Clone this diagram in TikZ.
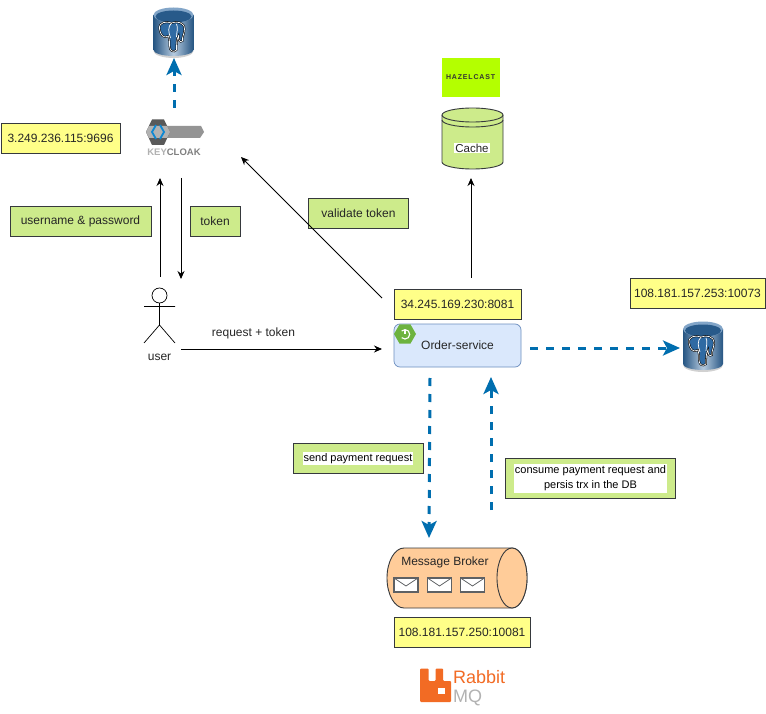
\documentclass[tikz,border=0pt]{standalone}
\usepackage{fontspec}
\setmainfont{Liberation Sans}
\usetikzlibrary{arrows.meta,shapes.geometric}
\definecolor{ylw}{HTML}{FFFF88}
\definecolor{grn}{HTML}{CDEB8B}
\definecolor{edge}{HTML}{36393D}
\definecolor{blu}{HTML}{006EAF}
\definecolor{svc}{HTML}{DAE8FC}
\definecolor{svcb}{HTML}{6C8EBF}
\definecolor{brk}{HTML}{FFCC99}
\definecolor{pgd}{HTML}{2F6AA3}
\definecolor{rab}{HTML}{F26B24}
\definecolor{spr}{HTML}{6DB33F}
\tikzset{
 x=1pt,y=-1pt,
 base/.style={font=\fontsize{12}{14}\selectfont,text=black!85},
 ipbox/.style={base,draw=edge,fill=ylw,line width=.9pt,minimum height=30pt,inner sep=0pt},
 notebox/.style={base,draw=edge,fill=grn,line width=.9pt,minimum height=30pt,inner sep=0pt,align=center},
 whitetxt/.style={fill=white,inner xsep=1pt,inner ysep=1.5pt,align=center,font=\fontsize{11}{15}\selectfont,text=black},
 txt/.style={base,inner sep=0pt},
 solidarrow/.style={draw=black,line width=.9pt,-{Stealth[length=8pt,width=7pt]}},
 dasharrow/.style={draw=blu,line width=3pt,dash pattern=on 8pt off 8pt,-{Stealth[length=17pt,width=15pt,inset=4pt]}},
}
\newcommand{\pgcyl}[1]{%
 \begin{scope}[shift={(#1)}]
  \fill[black!18] (-20,19) arc[start angle=180,end angle=360,x radius=20,y radius=-7] -- cycle;
  \shade[left color=pgd!80!black,right color=pgd!80!black,middle color=pgd!35!white] (-20,-17) -- (-20,18) arc[start angle=180,end angle=360,x radius=20,y radius=-6] -- (20,-17) -- cycle;
  \fill[pgd!60!white] (0,-17) ellipse[x radius=20,y radius=7.5];
  \fill[pgd!85!black] (0,-15.5) ellipse[x radius=18,y radius=6];
  \draw[black,line width=1.8pt,fill=pgd] (-14,-3) .. controls (-15,-10) and (-7,-11) .. (-2,-9) .. controls (3,-11) and (11,-10) .. (11,-3) .. controls (11,2) and (8,6) .. (9,9) .. controls (6,11) and (5,8) .. (5,4) .. controls (3,7) and (3,13) .. (3,18) .. controls (0,21) and (-4,19) .. (-4,14) .. controls (-4,9) and (-4,7) .. (-5,4) .. controls (-10,7) and (-13,3) .. (-14,-3) -- cycle;
  \draw[white,line width=.7pt] (-14,-3) .. controls (-15,-10) and (-7,-11) .. (-2,-9) .. controls (3,-11) and (11,-10) .. (11,-3) .. controls (11,2) and (8,6) .. (9,9) .. controls (6,11) and (5,8) .. (5,4) .. controls (3,7) and (3,13) .. (3,18) .. controls (0,21) and (-4,19) .. (-4,14) .. controls (-4,9) and (-4,7) .. (-5,4) .. controls (-10,7) and (-13,3) .. (-14,-3) -- cycle;
  \draw[white,line width=.7pt] (-2,-9) .. controls (-6,-5) and (-5,0) .. (-3,6);
  \draw[white,line width=.7pt] (3,-8) .. controls (5,-4) and (3,0) .. (3,5);
 \end{scope}}
\newcommand{\envlp}[1]{%
 \begin{scope}[shift={(#1)}]
  \draw[draw=edge!80,fill=white,line width=1.2pt] (0,0) rectangle (24,14);
  \draw[draw=edge!80,line width=.8pt] (0,0) -- (12,8) -- (24,0);
 \end{scope}}
\begin{document}
\begin{tikzpicture}
\useasboundingbox (0,0) rectangle (766,714);
\fill[white] (0,0) rectangle (766,714);

% databases
\pgcyl{173.5,32}
\pgcyl{703,346}
\coordinate (pgtop) at (174,58);
\coordinate (pgright) at (680,348);

% Keycloak logo
\node[inner sep=0pt,minimum width=58pt,minimum height=46pt] (kc) at (175,139) {};
\fill[black!42] (160,126) -- (201,126) -- (204,132) -- (200,138) -- (165,138) -- cycle;
\fill[black!65] (146,132) -- (152,119.5) -- (164,119.5) -- (170,132) -- (164,145) -- (152,145) -- cycle;
\fill[black!30] (146,132) -- (149,126) -- (167,126) -- (170,132) -- (167,138) -- (149,138) -- cycle;
\draw[cyan!70!blue,line width=1.8pt] (156,125) -- (152,132) -- (156,139) (160,125) -- (164,132) -- (160,139);
\node[inner sep=0pt,font=\fontsize{9.5}{10}\selectfont\bfseries,text=black!30] (kctext) at (174,152.5) {KEY\textcolor{black!50}{CLOAK}};

% actor
\node[draw=black,circle,minimum size=15pt,inner sep=0pt,line width=.7pt] (head) at (159.5,295.5) {};
\coordinate (hip) at (159.5,325);
\draw[black,line width=.7pt] (head.south) -- (hip);
\coordinate (armL) at (144,306.5); \coordinate (armR) at (175,306.5);
\coordinate (legL) at (144,343); \coordinate (legR) at (175,343);
\draw[black,line width=.7pt] (armL) -- (armR) (legL) -- (hip) -- (legR);
\node[txt] (user) at (159.5,357) {user};

% cache
\node[inner sep=0pt,minimum width=61pt,minimum height=61pt] (cache) at (472.5,138.5) {};
\draw[draw=edge,fill=grn,line width=.9pt] (442,115) -- (442,162) arc[start angle=180,end angle=360,x radius=30.5,y radius=-7] -- (503,115) arc[start angle=0,end angle=180,x radius=30.5,y radius=-7] -- cycle;
\draw[draw=edge,line width=.9pt] (442,115) arc[start angle=180,end angle=360,x radius=30.5,y radius=-7];
\draw[draw=edge,line width=.9pt] (442,120) arc[start angle=180,end angle=360,x radius=30.5,y radius=-7];
\node[txt,fill=white,inner xsep=1pt,inner ysep=1pt,font=\fontsize{11.5}{13}\selectfont] (cachetxt) at (472,148) {Cache};
\node[fill={rgb,255:red,180;green,255;blue,0},minimum width=58pt,minimum height=39pt,inner sep=0pt,font=\fontsize{7}{8}\selectfont\addfontfeature{LetterSpace=12},text=black!80] (hz) at (471,77.5) {\textbf{HAZELCAST}};

% yellow boxes
\node[ipbox,minimum width=119pt] (ip1) at (60.5,138) {3.249.236.115:9696};
\node[ipbox,minimum width=127pt] (ip2) at (457.5,304) {34.245.169.230:8081};
\node[ipbox,minimum width=135pt] (ip3) at (697.5,293) {108.181.157.253:10073};
\node[ipbox,minimum width=136pt] (ip4) at (462,632) {108.181.157.250:10081};

% green notes
\node[notebox,minimum width=141pt] (n1) at (80.5,221.5) {\rule{0pt}{9pt}username \& password};
\node[notebox,minimum width=50pt] (n2) at (215,221.5) {\rule{0pt}{9pt}token};
\node[notebox,minimum width=100pt] (n3) at (358.5,213) {validate token};
\node[notebox,minimum width=130pt] (n4) at (358,458) {};
\node[whitetxt] (n4t) at (358,458.5) {send payment request};
\node[notebox,minimum width=170pt,minimum height=40pt] (n5) at (590.5,478.5) {};
\node[whitetxt] (n5t) at (590.5,478.5) {consume payment request and\\persis trx in the DB};

% order service
\node[base,draw=svcb,fill=svc,rounded corners=6pt,minimum width=127pt,minimum height=43pt,inner sep=0pt,line width=.7pt] (os) at (457.5,345.5) {Order-service};
\node[regular polygon,regular polygon sides=6,fill=spr,minimum size=22pt,inner sep=0pt] (spring) at (405,334) {};
\draw[white,line width=1.1pt] (405,329.5) -- (405,334);
\draw[white,line width=1.1pt] (401.7,331) arc[start angle=135,end angle=-135,x radius=4.7,y radius=-4.7];

% broker
\node[inner sep=0pt,minimum width=140pt,minimum height=60pt] (mb) at (457,578) {};
\draw[draw=edge,fill=brk,line width=.9pt] (404,548) -- (512,548) arc[start angle=90,end angle=-90,x radius=15,y radius=-30] -- (404,608) arc[start angle=270,end angle=90,x radius=17,y radius=-30] -- cycle;
\draw[draw=edge,fill=brk,line width=.9pt] (512,578) ellipse[x radius=15,y radius=30];
\node[txt] (mbtxt) at (445,562) {Message Broker};
\envlp{394,578}
\envlp{427.5,578}
\envlp{460.5,578}

% rabbit logo
\fill[rab,rounded corners=1pt] (420,668.5) -- (428.5,668.5) -- (428.5,681) -- (435.5,681) -- (435.5,668.5) -- (443,668.5) -- (443,681) -- (451,681) -- (451,702) -- (420,702) -- cycle;
\fill[white] (438,688) rectangle (445,694);
\node[inner sep=0pt,font=\fontsize{18}{18}\selectfont,text=rab,anchor=base west] (rabbit) at (453,683) {Rabbit};
\node[inner sep=0pt,font=\fontsize{18}{18}\selectfont,text=black!30,anchor=base west] (mq) at (453,702) {MQ};

% free labels
\node[txt] (rt) at (253.5,333.5) {request + token};

% connectors
\coordinate (a1s) at (160,277); \coordinate (a1e) at (160,178);
\coordinate (a2s) at (181,178); \coordinate (a2e) at (181,279);
\coordinate (a3s) at (382,298); \coordinate (a3e) at (241,157);
\coordinate (a4s) at (181,349); \coordinate (a4e) at (382,349);
\coordinate (a5s) at (471,278); \coordinate (a5e) at (471,178);
\coordinate (d1s) at (174,108);
\coordinate (d2s) at (530,348);
\coordinate (d3s) at (430,378); \coordinate (d3e) at (429,538);
\coordinate (d4s) at (491,510); \coordinate (d4e) at (491,377);
\draw[solidarrow] (a1s) -- (a1e);
\draw[solidarrow] (a2s) -- (a2e);
\draw[solidarrow] (a3s) -- (a3e);
\draw[solidarrow] (a4s) -- (a4e);
\draw[solidarrow] (a5s) -- (a5e);
\draw[dasharrow] (d1s) -- (pgtop);
\draw[dasharrow] (d2s) -- (pgright);
\draw[dasharrow] (d3s) -- (d3e);
\draw[dasharrow] (d4s) -- (d4e);
\end{tikzpicture}
\end{document}
